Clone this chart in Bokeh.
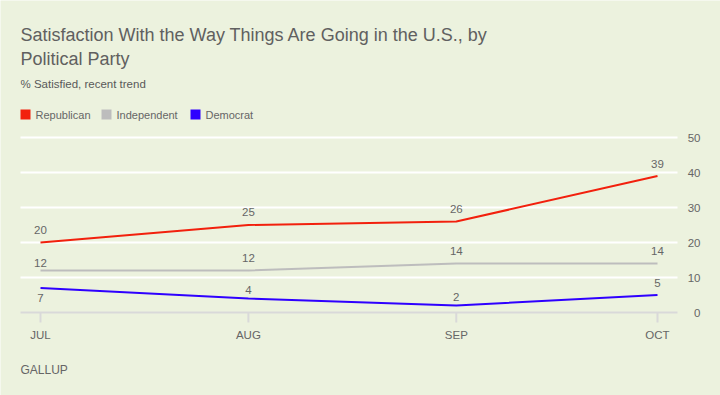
import pandas as pd
from bokeh.plotting import figure
from bokeh.models import Range1d, ColumnDataSource
from bokeh.core.properties import value
from bokeh.embed import file_html
from bokeh.resources import INLINE

# ---------------- data ----------------
months = ["JUL", "AUG", "SEP", "OCT"]
month_dates = ["2024-07-01", "2024-08-01", "2024-09-01", "2024-10-01"]
republican = [20, 25, 26, 39]
independent = [12, 12, 14, 14]
democrat = [7, 4, 2, 5]
series_names = ["Republican", "Independent", "Democrat"]
grid_ticks = [10, 20, 30, 40, 50]
y_tick_labels = [0, 10, 20, 30, 40, 50]

title_lines = ["Satisfaction With the Way Things Are Going in the U.S., by", "Political Party"]
subtitle = "% Satisfied, recent trend"
source_text = "GALLUP"

# ---------------- styles ----------------
BG = "#ECF2DE"
RED = "#F2200D"
GREY = "#BDBDBD"
BLUE = "#2E00FF"
AXIS = "#D9D9D9"
TXT = "#666666"
FONT = "Liberation Sans"

# per-point label offsets (px, positive = up)
label_offsets = {
    "Republican": [13, 13, 12.5, 12.5],
    "Independent": [8, 13, 13, 13],
    "Democrat": [-10, 9, 9, 12.5],
}

dates = pd.to_datetime(month_dates)
days = [(d - dates[0]).days for d in dates]

W, H = 720, 395
PLOT_L, PLOT_R = 20, 677      # extent of grid lines (px)
X0_PX, X1_PX = 40, 657        # px of first / last month
Y0_PX = 312                   # px of value 0
PXY = 3.5                     # px per percentage point

pxd = (X1_PX - X0_PX) / (days[-1] - days[0])


def dx(cx):
    return days[0] + (cx - X0_PX) / pxd


def dy(cy):
    return (Y0_PX - cy) / PXY


p = figure(width=W, height=H, x_range=Range1d(dx(0), dx(W)), y_range=Range1d(dy(H), dy(0)),
           output_backend="svg", toolbar_location=None,
           x_axis_location=None, y_axis_location=None,
           min_border=0, min_border_left=0, min_border_right=0, min_border_top=0, min_border_bottom=0)
p.background_fill_color = BG
p.border_fill_color = BG
p.outline_line_color = None
p.xgrid.visible = False
p.ygrid.visible = False

# grid lines
p.segment(x0=[dx(PLOT_L)] * len(grid_ticks), x1=[dx(PLOT_R)] * len(grid_ticks),
          y0=grid_ticks, y1=grid_ticks, line_color="white", line_width=2)
# x axis line and ticks
p.segment(x0=[dx(PLOT_L)], x1=[dx(PLOT_R)], y0=[0], y1=[0], line_color=AXIS, line_width=2)
p.segment(x0=days, x1=days, y0=[0] * len(days), y1=[-10 / PXY] * len(days), line_color=AXIS, line_width=2)
p.text(x=days, y=[dy(334)] * len(days), text=months, text_align="center", text_baseline="middle",
       text_font=value(FONT), text_font_size="11.5px", text_color=TXT)

# y tick labels on the right, right-aligned
p.text(x=[dx(700)] * len(y_tick_labels), y=y_tick_labels, text=[str(v) for v in y_tick_labels],
       text_align="right", text_baseline="middle",
       text_font=value(FONT), text_font_size="11.5px", text_color=TXT)

series = {"Republican": (republican, RED), "Independent": (independent, GREY), "Democrat": (democrat, BLUE)}

for name in series_names:
    vals, col = series[name]
    p.line(days, vals, line_color=col, line_width=2)
    src = ColumnDataSource(dict(x=days, y=vals, t=[str(v) for v in vals],
                                off=[-o for o in label_offsets[name]]))
    p.text(x="x", y="y", text="t", source=src, y_offset="off",
           text_align="center", text_baseline="middle",
           text_font=value(FONT), text_font_size="11.5px", text_color=TXT)

# legend (squares + labels)
leg_sq_x = [25, 106, 195]
leg_tx_x = [35, 116, 205]
leg_y = 114
for name, sx, tx in zip(series_names, leg_sq_x, leg_tx_x):
    col = series[name][1]
    p.scatter(x=[dx(sx)], y=[dy(leg_y)], marker="square", size=10, fill_color=col, line_color=None)
    p.text(x=[dx(tx)], y=[dy(leg_y)], text=[name], text_align="left", text_baseline="middle",
           text_font=value(FONT), text_font_size="11px", text_color=TXT)

# titles and source
p.text(x=[dx(20)] * 2, y=[dy(34.5), dy(58.5)], text=title_lines, text_baseline="alphabetic",
       text_font=value(FONT), text_font_size="18px", text_color="#606060")
p.text(x=[dx(20)], y=[dy(83.3)], text=[subtitle], text_baseline="alphabetic",
       text_font=value(FONT), text_font_size="11.5px", text_color="#595959")
p.text(x=[dx(20)], y=[dy(369)], text=[source_text], text_baseline="alphabetic",
       text_font=value(FONT), text_font_size="12px", text_color=TXT)

open("out.html", "w").write(file_html(p, INLINE))
